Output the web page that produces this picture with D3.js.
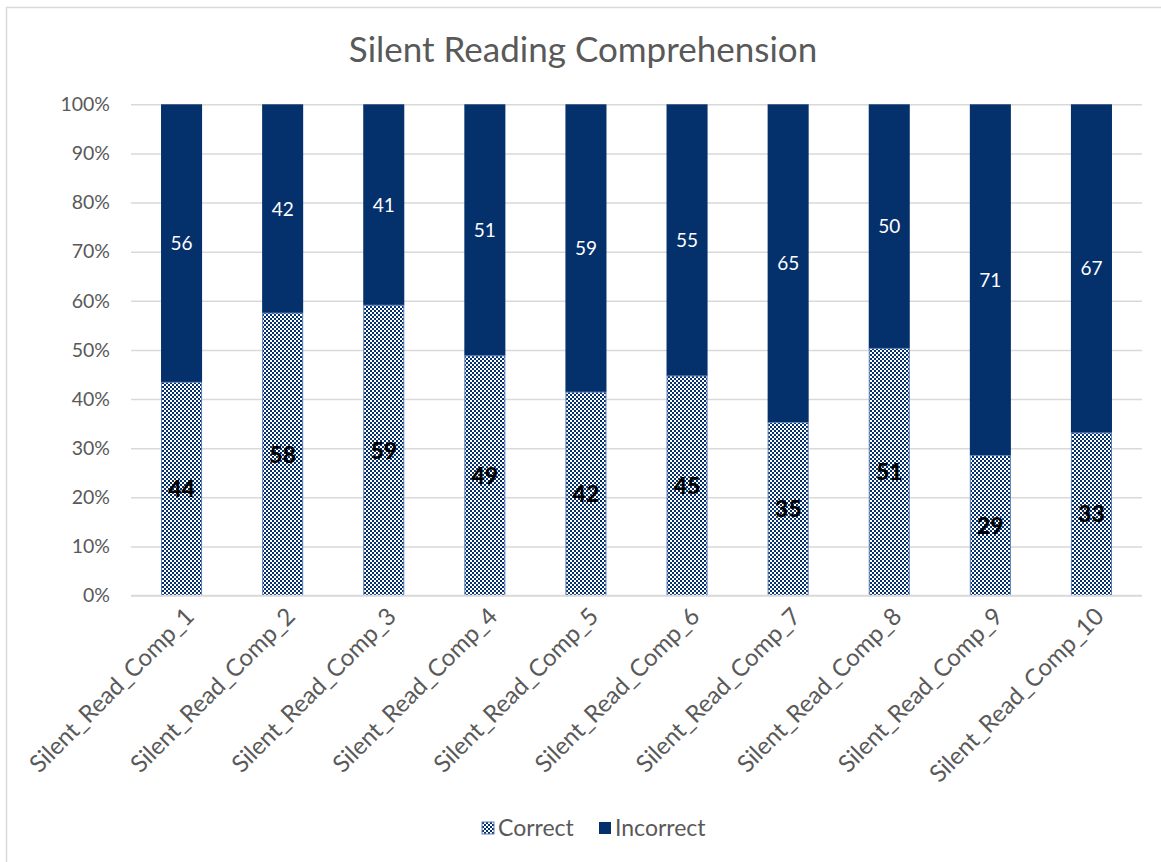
<!DOCTYPE html>
<html>
<head>
<meta charset="utf-8">
<script src="https://cdn.jsdelivr.net/npm/d3@7"></script>
<style>
  body { margin: 0; background: #fff; }
  svg { display: block; font-family: Lato, "Open Sans", sans-serif; }
</style>
</head>
<body>
<svg id="chart" width="1161" height="862"></svg>
<script>
const categories = ["Silent_Read_Comp_1","Silent_Read_Comp_2","Silent_Read_Comp_3","Silent_Read_Comp_4","Silent_Read_Comp_5","Silent_Read_Comp_6","Silent_Read_Comp_7","Silent_Read_Comp_8","Silent_Read_Comp_9","Silent_Read_Comp_10"];
const correctShare = [0.434, 0.575, 0.591, 0.488, 0.414, 0.447, 0.352, 0.503, 0.285, 0.331];
const correctLabels = [44, 58, 59, 49, 42, 45, 35, 51, 29, 33];
const incorrectLabels = [56, 42, 41, 51, 59, 55, 65, 50, 71, 67];
const yTicks = [0, 0.1, 0.2, 0.3, 0.4, 0.5, 0.6, 0.7, 0.8, 0.9, 1.0];
const seriesNames = ["Correct", "Incorrect"];

const navy = "#04306c";
const grey = "#595959";

const svg = d3.select("#chart");
const defs = svg.append("defs");
const pat = defs.append("pattern").attr("id", "checker")
  .attr("patternUnits", "userSpaceOnUse").attr("width", 4).attr("height", 4);
pat.append("rect").attr("width", 4).attr("height", 4).attr("fill", "#fff");
pat.append("rect").attr("x", 0).attr("y", 0).attr("width", 2).attr("height", 2).attr("fill", navy);
pat.append("rect").attr("x", 2).attr("y", 2).attr("width", 2).attr("height", 2).attr("fill", navy);

// chart border
svg.append("rect").attr("x", 6.5).attr("y", 7.5).attr("width", 1170).attr("height", 870)
  .attr("fill", "none").attr("stroke", "#d9d9d9").attr("stroke-width", 1.5);

const x = d3.scaleBand().domain(categories).range([131, 1142]).paddingInner(0.594).paddingOuter(0.297);
const y = d3.scaleLinear().domain([0, 1]).range([595.5, 104.3]);

// title
svg.append("text").attr("x", 583).attr("y", 62).attr("text-anchor", "middle")
  .attr("font-size", 35).attr("fill", grey).text("Silent Reading Comprehension");

// gridlines
const yAxis = d3.axisLeft(y).tickValues(yTicks).tickSize(-(1142 - 131)).tickFormat(d3.format(".0%"));
const gy = svg.append("g").attr("transform", "translate(131,0)").call(yAxis);
gy.select(".domain").remove();
gy.selectAll(".tick line").attr("stroke", "#d9d9d9").attr("stroke-width", 1.5);
gy.selectAll(".tick text").attr("fill", grey).attr("font-size", 19.5).attr("x", -21)
  .attr("font-family", "Lato, 'Open Sans', sans-serif");

// bars
const data = categories.map((c, i) => ({ c, share: correctShare[i], cl: correctLabels[i], il: incorrectLabels[i] }));
const g = svg.append("g");
g.selectAll(".inc").data(data).join("rect").attr("class", "inc")
  .attr("x", d => x(d.c)).attr("width", x.bandwidth())
  .attr("y", y(1)).attr("height", d => y(d.share) - y(1))
  .attr("fill", navy);
g.selectAll(".cor").data(data).join("rect").attr("class", "cor")
  .attr("x", d => x(d.c) + 0.5).attr("width", x.bandwidth() - 1)
  .attr("y", d => y(d.share)).attr("height", d => y(0) - y(d.share))
  .attr("fill", "url(#checker)").attr("stroke", "#5b7fb8").attr("stroke-width", 1);

// axis line
svg.append("line").attr("x1", 131).attr("x2", 1142).attr("y1", y(0)).attr("y2", y(0))
  .attr("stroke", "#d9d9d9").attr("stroke-width", 1.5);

// labels
g.selectAll(".cl").data(data).join("text").attr("class", "cl")
  .attr("x", d => x(d.c) + x.bandwidth() / 2).attr("y", d => (y(d.share) + y(0)) / 2)
  .attr("dy", "0.36em").attr("text-anchor", "middle")
  .attr("font-size", 23).attr("font-weight", 900).attr("fill", "#000").text(d => d.cl);
g.selectAll(".il").data(data).join("text").attr("class", "il")
  .attr("x", d => x(d.c) + x.bandwidth() / 2).attr("y", d => (y(d.share) + y(1)) / 2)
  .attr("dy", "0.36em").attr("text-anchor", "middle")
  .attr("font-size", 19).attr("fill", "#fff").text(d => d.il);

// x labels
svg.selectAll(".xl").data(categories).join("text").attr("class", "xl")
  .attr("transform", d => `translate(${x(d) + x.bandwidth() / 2 + 8},${612}) rotate(-45)`)
  .attr("text-anchor", "end").attr("dy", "0.35em")
  .attr("font-size", 24).attr("fill", grey).text(d => d);

// legend
const leg = svg.append("g");
const legX = [482, 599];
seriesNames.forEach((n, i) => {
  leg.append("rect").attr("x", legX[i]).attr("y", 822).attr("width", 12).attr("height", 12)
    .attr("fill", i === 0 ? "url(#checker)" : navy)
    .attr("stroke", i === 0 ? "#5b7fb8" : "none");
  leg.append("text").attr("x", legX[i] + 16).attr("y", 828).attr("dy", "0.36em")
    .attr("font-size", 23).attr("fill", grey).text(n);
});
</script>
</body>
</html>
